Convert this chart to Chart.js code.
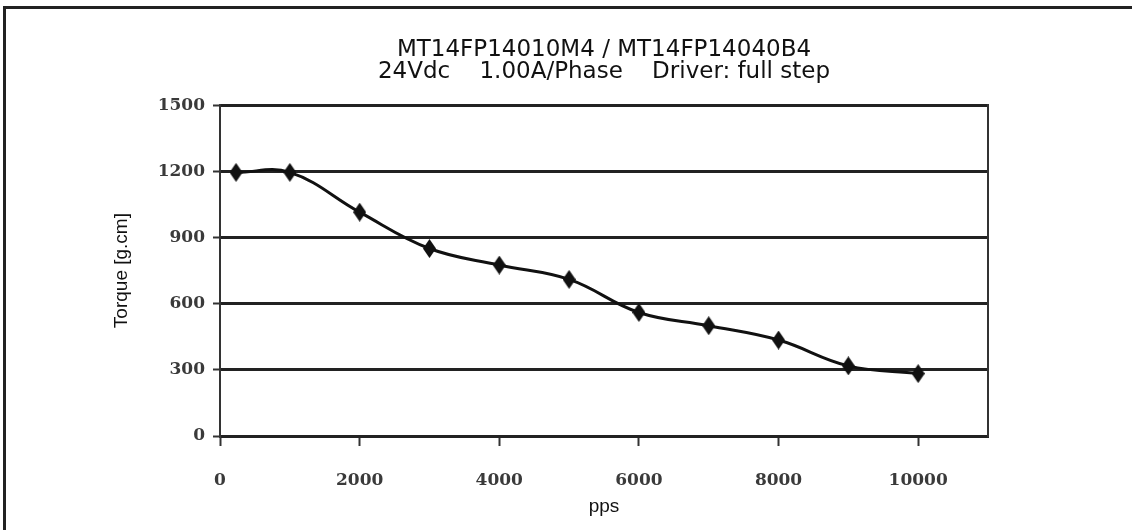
<!DOCTYPE html>
<html>
<head>
<meta charset="utf-8">
<script src="https://cdn.jsdelivr.net/npm/chart.js@4/dist/chart.umd.min.js"></script>
<style>
  html, body { margin: 0; padding: 0; background: #fff; overflow: hidden; }
  #wrap { position: relative; width: 1132px; height: 530px; }
  #frame { position: absolute; left: 3px; top: 6px; width: 1200px; height: 600px; border-left: 3px solid #222; border-top: 3px solid #222; }
  #torqueChart { position: absolute; left: 0; top: 0; }
</style>
</head>
<body>
<div id="wrap">
  <div id="frame"></div>
  <canvas id="torqueChart" width="1132" height="530"></canvas>
</div>
<script>
const pps = [230, 1000, 2000, 3000, 4000, 5000, 6000, 7000, 8000, 9000, 10000];
const torque = [1195, 1195, 1015, 850, 775, 710, 560, 500, 435, 318, 283];
const xTicks = [0, 2000, 4000, 6000, 8000, 10000];
const yTicks = [0, 300, 600, 900, 1200, 1500];
const titleLines = ['MT14FP14010M4 / MT14FP14040B4', '24Vdc    1.00A/Phase    Driver: full step'];

// tall narrow diamond marker like the datasheet
function diamond(w, h) {
    const c = document.createElement('canvas');
    c.width = w;
    c.height = h;
    const g = c.getContext('2d');
    g.fillStyle = '#111';
    g.beginPath();
    g.moveTo(w / 2, 0);
    g.lineTo(w, h / 2);
    g.lineTo(w / 2, h);
    g.lineTo(0, h / 2);
    g.closePath();
    g.fill();
    return c;
}
const marker = diamond(13, 19);

const tickFont = { family: '"DejaVu Serif", serif', size: 17, weight: 'bold' };
const titleFont = { family: '"Liberation Sans", Arial, sans-serif', size: 19 };
const plain = v => String(v);

new Chart(document.getElementById('torqueChart'), {
    type: 'line',
    data: {
        datasets: [{
            data: pps.map((x, i) => ({ x: x, y: torque[i] })),
            borderColor: '#111',
            borderWidth: 3,
            tension: 0.4,
            pointStyle: marker,
            pointRadius: 8,
            fill: false
        }]
    },
    options: {
        responsive: false,
        animation: false,
        layout: { padding: { top: 39, left: 0, right: 0, bottom: 0 } },
        plugins: {
            legend: { display: false },
            tooltip: { enabled: false },
            title: {
                display: true,
                text: titleLines,
                fullSize: false,
                color: '#111',
                font: { family: '"DejaVu Sans", Verdana, sans-serif', size: 23, weight: 'normal', lineHeight: 0.96 },
                padding: { top: 0, bottom: 22 }
            }
        },
        scales: {
            x: {
                type: 'linear',
                min: 0,
                max: 11000,
                afterBuildTicks: scale => { scale.ticks = xTicks.map(v => ({ value: v })); },
                ticks: { callback: plain, color: '#3a3a3a', font: tickFont, padding: 24, maxRotation: 0, autoSkip: false },
                grid: { drawOnChartArea: false, color: '#333', tickLength: 10, tickWidth: 2 },
                border: { color: '#222', width: 3 },
                title: { display: true, text: 'pps', color: '#111', font: titleFont, padding: { top: 0, bottom: 12 } },
                afterFit: scale => { scale.height = 94; }
            },
            y: {
                min: 0,
                max: 1500,
                afterBuildTicks: scale => { scale.ticks = yTicks.map(v => ({ value: v })); },
                ticks: { callback: plain, color: '#3a3a3a', font: tickFont, padding: 8 },
                grid: { color: '#222', lineWidth: 3, tickLength: 7, tickWidth: 2, tickColor: '#333' },
                border: { color: '#333', width: 2 },
                title: { display: true, text: 'Torque [g.cm]', color: '#111', font: titleFont, padding: { top: 110, bottom: 0 } },
                afterFit: scale => { scale.width = 220; }
            },
            yRight: {
                position: 'right',
                min: 0,
                max: 1500,
                ticks: { display: false },
                grid: { display: false },
                border: { color: '#333', width: 2 },
                afterFit: scale => { scale.width = 144; }
            }
        }
    }
});
</script>
</body>
</html>
